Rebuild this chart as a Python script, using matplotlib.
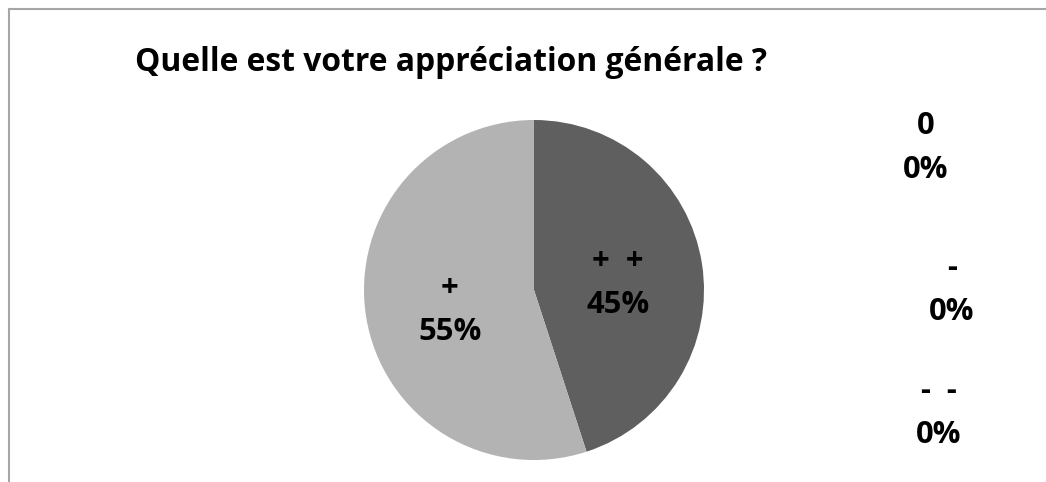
import matplotlib.pyplot as plt

# data
categories = ["+  +", "+", "0", "-", "-  -"]
values = [45, 55, 0, 0, 0]
colors = ["#5f5f5f", "#b3b3b3", "#8a8a8a", "#d0d0d0", "#404040"]
title = "Quelle est votre appréciation générale ?"

# label anchors: x centre, baseline of the percent line (pixels from top)
label_pos = [(618, 313), (450, 340), (926, 178), (952, 320), (939, 443)]
line_gap = 44

plt.rcParams['font.family'] = ['Open Sans', 'DejaVu Sans']

W, H = 1046, 482
fig = plt.figure(figsize=(W / 100, H / 100), dpi=100)
ax = fig.add_axes([0, 0, 1, 1])

# chart frame (top and left edges visible)
ax.plot([9, W], [H - 9, H - 9], color="#a6a6a6", lw=1.5)
ax.plot([9, 9], [0, H - 9], color="#a6a6a6", lw=1.5)

ax.pie(values, colors=colors, startangle=90, counterclock=False,
       center=(534, H - 290), radius=170, frame=True,
       wedgeprops=dict(linewidth=0, edgecolor='none'))
ax.set_xlim(0, W)
ax.set_ylim(0, H)
ax.axis('off')

renderer = fig.canvas.get_renderer()


def fit(t, width):
    w = t.get_window_extent(renderer).width
    t.set_fontsize(t.get_fontsize() * width / w)


total = sum(values)
probe = ax.text(0, 0, "45%", fontsize=20, fontweight='bold')
fit(probe, 63)
lsize = probe.get_fontsize()
probe.remove()

for cat, v, (x, y) in zip(categories, values, label_pos):
    pct = round(100 * v / total)
    ax.text(x, H - y + line_gap, cat, ha='center', va='baseline',
            fontsize=lsize, fontweight='bold')
    ax.text(x, H - y, f"{pct}%", ha='center', va='baseline',
            fontsize=lsize, fontweight='bold')

t = ax.text(451, H - 71, title, ha='center', va='baseline',
            fontsize=24, fontweight='bold')
fit(t, 633)

fig.savefig("out.png", dpi=100)
